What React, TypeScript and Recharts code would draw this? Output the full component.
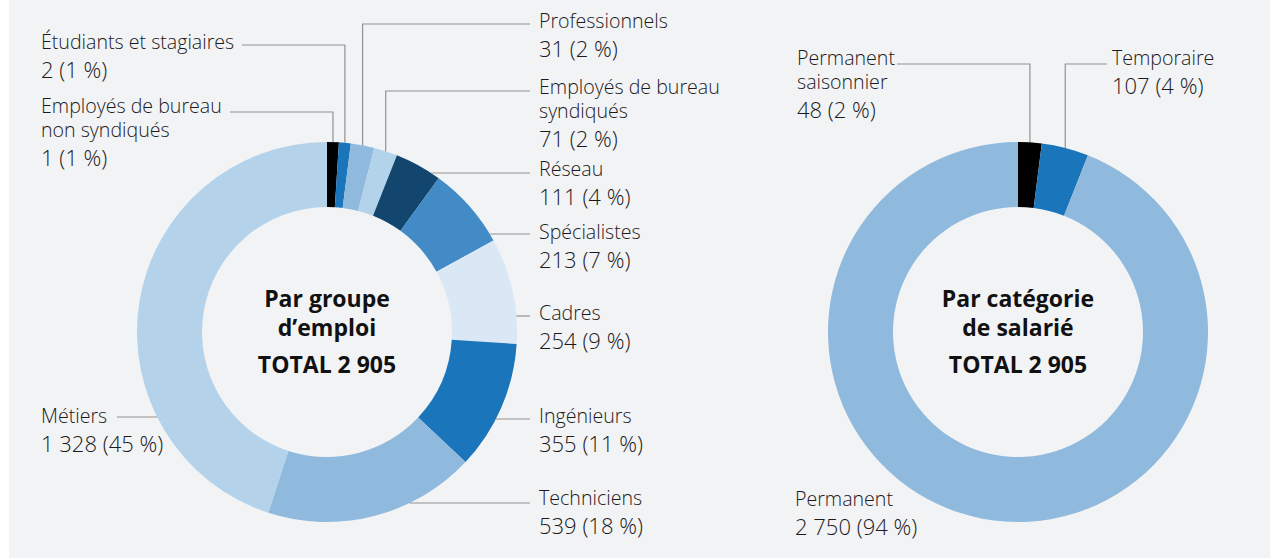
import React from "react";
import { PieChart, Pie, Cell } from "recharts";

// ---------- Data ----------
const groupCategories = [
  "Employés de bureau\nnon syndiqués",
  "Étudiants et stagiaires",
  "Professionnels",
  "Employés de bureau\nsyndiqués",
  "Réseau",
  "Spécialistes",
  "Cadres",
  "Ingénieurs",
  "Techniciens",
  "Métiers",
];
const groupCounts = [1, 2, 31, 71, 111, 213, 254, 355, 539, 1328];
const groupPercents = [1, 1, 2, 2, 4, 7, 9, 11, 18, 45];

const employeeCategories = ["Permanent\nsaisonnier", "Temporaire", "Permanent"];
const employeeCounts = [48, 107, 2750];
const employeePercents = [2, 4, 94];

const groupTitle = ["Par groupe", "d’emploi", "TOTAL 2 905"];
const employeeTitle = ["Par catégorie", "de salarié", "TOTAL 2 905"];

// ---------- Styles / layout ----------
const groupColors = [
  "#000000",
  "#1b75bb",
  "#8fbadd",
  "#b3d3ea",
  "#13466f",
  "#428bc6",
  "#dae8f5",
  "#1b75bb",
  "#8fb9dd",
  "#b4d2e9",
];
const employeeColors = ["#000000", "#1b75bb", "#8fb9dd"];

type LabelLayout = { x: number; y: number; lineFrom?: number; lineY?: number; kind: "elbow" | "horiz" | "none" };

const groupLayout: LabelLayout[] = [
  { x: 41, y: 113, lineFrom: 230, lineY: 112, kind: "elbow" },
  { x: 41, y: 49, lineFrom: 242, lineY: 45, kind: "elbow" },
  { x: 539, y: 28, lineFrom: 530, lineY: 24, kind: "elbow" },
  { x: 539, y: 94, lineFrom: 530, lineY: 91, kind: "elbow" },
  { x: 539, y: 176, lineFrom: 530, lineY: 173, kind: "horiz" },
  { x: 539, y: 239, lineFrom: 530, lineY: 234, kind: "horiz" },
  { x: 539, y: 320, lineFrom: 530, lineY: 316, kind: "horiz" },
  { x: 539, y: 423, lineFrom: 530, lineY: 419, kind: "horiz" },
  { x: 539, y: 505, lineFrom: 530, lineY: 503, kind: "horiz" },
  { x: 41, y: 423, lineFrom: 117, lineY: 417, kind: "horiz" },
];
const employeeLayout: LabelLayout[] = [
  { x: 797, y: 65, lineFrom: 897, lineY: 64, kind: "elbow" },
  { x: 1112, y: 65, lineFrom: 1107, lineY: 64, kind: "elbow" },
  { x: 795, y: 506, kind: "none" },
];

const FONT = "'Open Sans', 'Noto Sans', sans-serif";
const TEXT_COLOR = "#1c1a1b";
const LINE_COLOR = "#929292";
const RAD = Math.PI / 180;

const fmt = (n: number) => {
  const s = String(n);
  return s.replace(/\B(?=(\d{3})+(?!\d))/g, " ");
};

const groupData = groupCategories.map((name, i) => ({
  name,
  count: groupCounts[i],
  pct: groupPercents[i],
}));
const employeeData = employeeCategories.map((name, i) => ({
  name,
  count: employeeCounts[i],
  pct: employeePercents[i],
}));

function makeLabel(layout: LabelLayout[], title: string[]) {
  return (props: any) => {
    const { cx, cy, midAngle, outerRadius, index, payload } = props;
    const L = layout[index];
    const entry = payload && payload.name !== undefined ? payload : props;
    const lines: string[] = String(entry.name).split("\n");
    const valueText = `${fmt(entry.count)} (${entry.pct} %)`;
    let path = "";
    if (L.kind === "elbow") {
      const px = cx + outerRadius * Math.cos(-midAngle * RAD);
      const py = cy + outerRadius * Math.sin(-midAngle * RAD);
      path = `M${L.lineFrom},${L.lineY}H${px}V${py}`;
    } else if (L.kind === "horiz") {
      const dy = (L.lineY as number) - cy;
      const dx = Math.sqrt(Math.max(0, outerRadius * outerRadius - dy * dy));
      const ex = (L.lineFrom as number) < cx ? cx - dx : cx + dx;
      path = `M${L.lineFrom},${L.lineY}H${ex}`;
    }
    return (
      <g>
        {path && <path d={path} stroke={LINE_COLOR} strokeWidth={1.2} fill="none" />}
        {lines.map((t, k) => (
          <text
            key={k}
            x={L.x}
            y={L.y + k * 24}
            fontFamily={FONT}
            fontWeight={300}
            fontSize={19.6}
            fill={TEXT_COLOR}
          >
            {t}
          </text>
        ))}
        <text
          x={L.x}
          y={L.y + (lines.length - 1) * 24 + 29}
          fontFamily={FONT}
          fontWeight={300}
          fontSize={22}
          fill={TEXT_COLOR}
        >
          {valueText}
        </text>
        {index === 0 && (
          <g>
            <text x={cx} y={cy - 25} textAnchor="middle" fontFamily={FONT} fontWeight={700} fontSize={23} fill="#111">
              {title[0]}
            </text>
            <text x={cx} y={cy + 4} textAnchor="middle" fontFamily={FONT} fontWeight={700} fontSize={23} fill="#111">
              {title[1]}
            </text>
            <text x={cx} y={cy + 41} textAnchor="middle" fontFamily={FONT} fontWeight={700} fontSize={23} fill="#111">
              {title[2]}
            </text>
          </g>
        )}
      </g>
    );
  };
}

export default function App() {
  return (
    <div style={{ position: "absolute", left: 0, top: 0, width: 1270, height: 559, background: "#ffffff" }}>
      <div style={{ position: "absolute", left: 9, top: 0, width: 1261, height: 558, background: "#f2f3f5" }} />
      <div style={{ position: "absolute", left: 0, top: 0 }}>
        <PieChart width={1270} height={559} margin={{ top: 0, right: 0, bottom: 0, left: 0 }}>
          <Pie
            data={groupData}
            dataKey="pct"
            nameKey="name"
            cx={327}
            cy={332}
            innerRadius={125}
            outerRadius={190}
            startAngle={90}
            endAngle={-270}
            stroke="none"
            labelLine={false}
            label={makeLabel(groupLayout, groupTitle)}
            isAnimationActive={false}
          >
            {groupData.map((_, i) => (
              <Cell key={i} fill={groupColors[i]} stroke="none" />
            ))}
          </Pie>
          <Pie
            data={employeeData}
            dataKey="pct"
            nameKey="name"
            cx={1018}
            cy={332}
            innerRadius={125}
            outerRadius={190}
            startAngle={90}
            endAngle={-270}
            stroke="none"
            labelLine={false}
            label={makeLabel(employeeLayout, employeeTitle)}
            isAnimationActive={false}
          >
            {employeeData.map((_, i) => (
              <Cell key={i} fill={employeeColors[i]} stroke="none" />
            ))}
          </Pie>
        </PieChart>
      </div>
    </div>
  );
}
